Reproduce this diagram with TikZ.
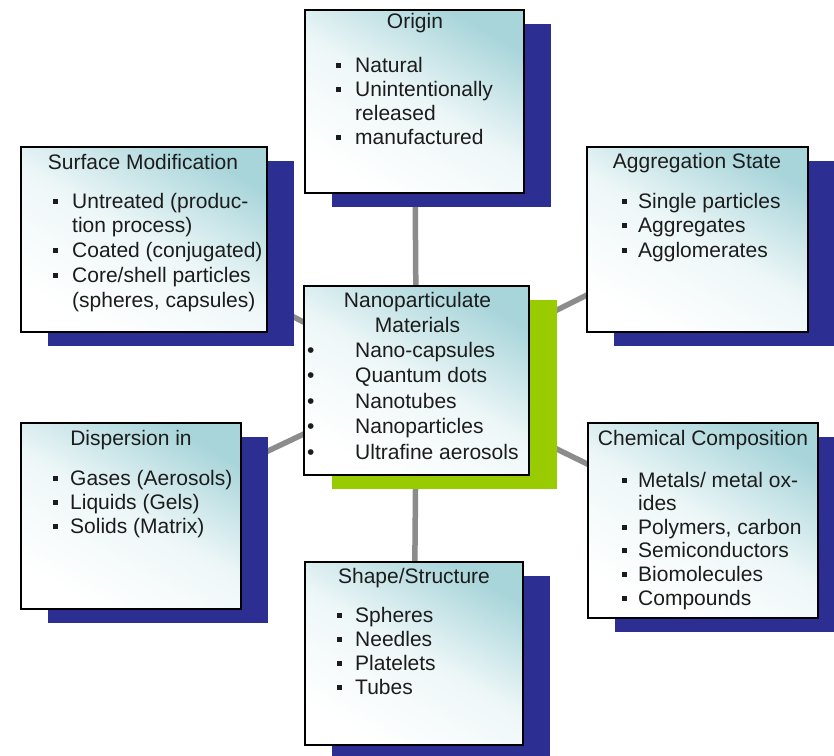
\documentclass[tikz,border=0pt]{standalone}
\usepackage{fontspec}
\setmainfont{Liberation Sans}
\usetikzlibrary{shadows}
\definecolor{sblue}{RGB}{44,46,145}
\definecolor{sgreen}{RGB}{153,204,0}
\definecolor{tealA}{RGB}{168,213,218}
\definecolor{tealB}{RGB}{238,247,248}
\definecolor{lgray}{RGB}{140,140,140}
\definecolor{txt}{RGB}{28,28,28}
\pgfdeclarelayer{bg}
\pgfsetlayers{bg,main}
\newlength{\bw}
\newcommand{\sqb}{\makebox[\bw][l]{\rule[4.5pt]{5pt}{5pt}}}
\newcommand{\rdb}{\makebox[\bw][l]{\textbullet}}
\newcommand{\blist}[2]{\setlength{\bw}{#1}\begin{tabular}[t]{@{}l@{}l@{}}#2\end{tabular}}
\tikzset{
  card/.style={draw=black, line width=2.5pt, inner sep=0pt,
    top color=tealA, bottom color=white, middle color=tealB, shading angle=-30,
    drop shadow={shadow xshift=27pt, shadow yshift=-14pt, fill=sblue, opacity=1}},
  centercard/.style={draw=black, line width=2.5pt, inner sep=0pt,
    top color=tealA, bottom color=white, middle color=tealB, shading angle=-30,
    drop shadow={shadow xshift=28pt, shadow yshift=-14pt, fill=sgreen, opacity=1}},
  ttl/.style={anchor=base, inner sep=0pt, text=txt, font=\fontsize{21}{25}\selectfont},
  lst/.style={anchor=base west, inner sep=0pt, text=txt, font=\fontsize{21}{#1}\selectfont},
  link/.style={draw=lgray, line width=5.5pt}
}
\begin{document}
\begin{tikzpicture}[x=1pt, y=-1pt]
\useasboundingbox (0,0) rectangle (834,755);
\begin{pgfonlayer}{bg}
\fill[white] (0,0) rectangle (834,755);
\end{pgfonlayer}

% boxes
\node[card, minimum width=219pt, minimum height=183pt] (origin) at (414.5,101.5) {};
\node[card, minimum width=246pt, minimum height=185pt] (surf) at (144,239.5) {};
\node[card, minimum width=221pt, minimum height=185pt] (aggr) at (697.5,239.5) {};
\node[centercard, minimum width=225pt, minimum height=189pt] (nano) at (416.5,380.5) {};
\node[card, minimum width=220pt, minimum height=186pt] (disp) at (131,516) {};
\node[card, minimum width=230pt, minimum height=195pt] (chem) at (703,520.5) {};
\node[card, minimum width=218pt, minimum height=183pt] (shape) at (414,653.5) {};

% connectors
\begin{pgfonlayer}{bg}
\draw[link] (nano.center) -- (origin.center);
\draw[link] (nano.center) -- (surf.center);
\draw[link] (nano.center) -- (aggr.center);
\draw[link] (nano.center) -- (disp.center);
\draw[link] (nano.center) -- (chem.center);
\draw[link] (nano.center) -- (shape.center);
\end{pgfonlayer}

% Origin
\node[ttl] (t1) at (415,28) {Origin};
\node[lst=24.3] (l1) at (336,72) {\blist{19pt}{\sqb & Natural\\ \sqb & Unintentionally\\ & released\\ \sqb & manufactured}};

% Surface Modification
\node[ttl] (t2) at (143,169) {Surface Modification};
\node[lst=24.8] (l2) at (53,208) {\blist{19pt}{\sqb & Untreated (produc-\\ & tion process)\\ \sqb & Coated (conjugated)\\ \sqb & Core/shell particles\\ & (spheres, capsules)}};

% Aggregation State
\node[ttl] (t3) at (697,168) {Aggregation State};
\node[lst=24.5] (l3) at (622,208) {\blist{16pt}{\sqb & Single particles\\ \sqb & Aggregates\\ \sqb & Agglomerates}};

% Center
\node[ttl] (t4) at (417.5,307) {\begin{tabular}[t]{@{}c@{}}Nanoparticulate\\Materials\end{tabular}};
\node[lst=25.5] (l4) at (307,357) {\blist{48pt}{\rdb & Nano-capsules\\ \rdb & Quantum dots\\ \rdb & Nanotubes\\ \rdb & Nanoparticles\\ \rdb & Ultrafine aerosols}};

% Dispersion
\node[ttl] (t5) at (131,445) {Dispersion in};
\node[lst=24] (l5) at (53,485) {\blist{17pt}{\sqb & Gases (Aerosols)\\ \sqb & Liquids (Gels)\\ \sqb & Solids (Matrix)}};

% Chemical Composition
\node[ttl] (t6) at (703,445) {Chemical Composition};
\node[lst=23.6] (l6) at (622,487) {\blist{16pt}{\sqb & Metals/ metal ox-\\ & ides\\ \sqb & Polymers, carbon\\ \sqb & Semiconductors\\ \sqb & Biomolecules\\ \sqb & Compounds}};

% Shape/Structure
\node[ttl] (t7) at (414,583) {Shape/Structure};
\node[lst=24.3] (l7) at (337,622) {\blist{18pt}{\sqb & Spheres\\ \sqb & Needles\\ \sqb & Platelets\\ \sqb & Tubes}};
\end{tikzpicture}
\end{document}
